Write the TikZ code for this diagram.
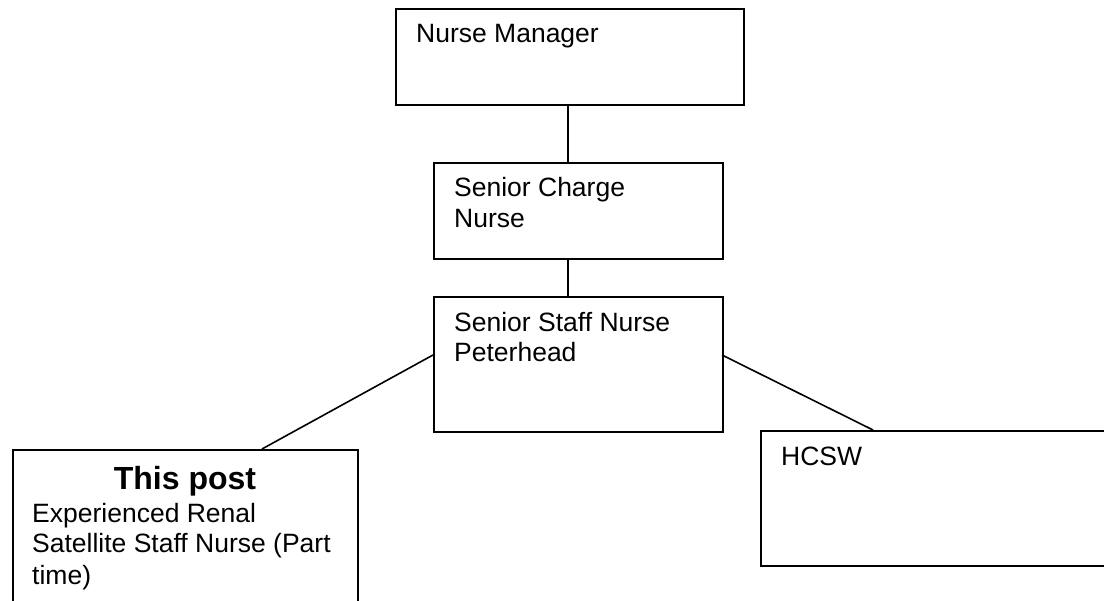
\documentclass[tikz,border=0pt]{standalone}
\usepackage{fontspec}
\setmainfont{Liberation Sans}
\begin{document}
\begin{tikzpicture}[x=1pt,y=-1pt,
  box/.style={draw=black, line width=2pt, rectangle, inner sep=0pt, anchor=north west},
  lbl/.style={anchor=base west, inner sep=0pt, font=\fontsize{26.5}{31}\selectfont},
  conn/.style={draw=black, line width=1.6pt}]
\useasboundingbox (0,0) rectangle (1104,601);
\clip (0,0) rectangle (1104,601);
\fill[white] (0,0) rectangle (1104,601);
% boxes
\node[box, minimum width=348pt, minimum height=96pt] (nm) at (395,8) {};
\node[box, minimum width=289pt, minimum height=96pt] (scn) at (433,162) {};
\node[box, minimum width=289pt, minimum height=135pt] (ssn) at (433,296) {};
\node[box, minimum width=345pt, minimum height=180pt] (tp) at (12,449) {};
\node[box, minimum width=360pt, minimum height=135pt] (hc) at (760,430) {};
% texts
\node[lbl] (t1) at (416,43) {Nurse Manager};
\node[lbl] (t2) at (454,197) {Senior Charge};
\node[lbl] (t3) at (454,228) {Nurse};
\node[lbl] (t4) at (454,332) {Senior Staff Nurse};
\node[lbl] (t5) at (454,362) {Peterhead};
\node[lbl] (t6) at (781,466) {HCSW};
\node[anchor=base, inner sep=0pt, font=\fontsize{32}{36}\selectfont\bfseries] (t7) at (185,490) {This post};
\node[lbl] (t8) at (32,522) {Experienced Renal};
\node[lbl] (t9) at (32,553) {Satellite Staff Nurse (Part};
\node[lbl] (t10) at (32,584) {time)};
% connector end points
\coordinate (ssnL) at (433,355);
\coordinate (tpT) at (262,449);
\coordinate (ssnR) at (722,355);
\coordinate (hcT) at (873,430);
% connectors
\draw[conn] (nm.south -| 568,0) -- (scn.north -| 568,0);
\draw[conn] (scn.south -| 568,0) -- (ssn.north -| 568,0);
\draw[conn] (ssnL) -- (tpT);
\draw[conn] (ssnR) -- (hcT);
\end{tikzpicture}
\end{document}
